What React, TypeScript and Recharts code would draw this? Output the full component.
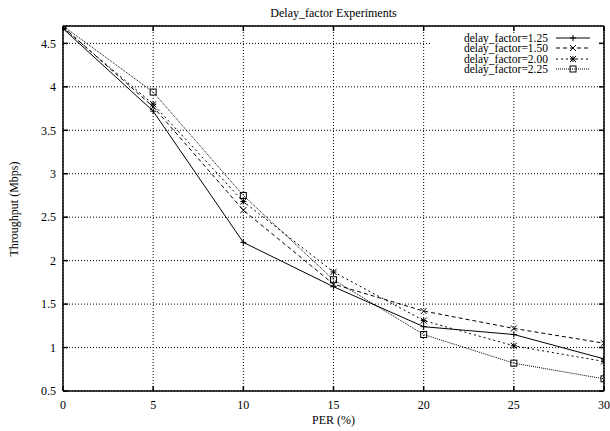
import React from "react";
import { LineChart, Line, XAxis, YAxis, CartesianGrid, Legend } from "recharts";

const per = [0, 5, 10, 15, 20, 25, 30];
const df125 = [4.67, 3.72, 2.21, 1.7, 1.24, 1.15, 0.87];
const df150 = [4.69, 3.77, 2.58, 1.73, 1.42, 1.22, 1.05];
const df200 = [4.68, 3.8, 2.68, 1.87, 1.31, 1.02, 0.84];
const df225 = [4.7, 3.94, 2.75, 1.78, 1.15, 0.82, 0.64];

const xTicks = [0, 5, 10, 15, 20, 25, 30];
const yTicks = [0.5, 1, 1.5, 2, 2.5, 3, 3.5, 4, 4.5];

const series = [
  { key: "df125", name: "delay_factor=1.25", dash: undefined, marker: "plus" },
  { key: "df150", name: "delay_factor=1.50", dash: "4 3", marker: "cross" },
  { key: "df200", name: "delay_factor=2.00", dash: "2 3", marker: "star" },
  { key: "df225", name: "delay_factor=2.25", dash: "1 1", marker: "square" },
];

const data = per.map((p, i) => ({
  per: p,
  df125: df125[i],
  df150: df150[i],
  df200: df200[i],
  df225: df225[i],
}));

const FONT = "'Liberation Serif', 'Times New Roman', serif";

function Marker({ kind, cx, cy }: { kind: string; cx: number; cy: number }) {
  const s = 3;
  const plus = `M${cx - s},${cy}H${cx + s}M${cx},${cy - s}V${cy + s}`;
  const cross = `M${cx - s},${cy - s}L${cx + s},${cy + s}M${cx - s},${cy + s}L${cx + s},${cy - s}`;
  if (kind === "square") {
    return <rect x={cx - s} y={cy - s} width={2 * s} height={2 * s} fill="none" stroke="#000" strokeWidth={1} />;
  }
  const d = kind === "plus" ? plus : kind === "cross" ? cross : plus + cross;
  return <path d={d} fill="none" stroke="#000" strokeWidth={1} />;
}

const renderLegend = () => (
  <div style={{ paddingRight: 7, fontFamily: FONT }}>
    {series.map((s) => (
      <div
        key={s.key}
        style={{ display: "flex", justifyContent: "flex-end", alignItems: "center", height: 10.5 }}
      >
        <span style={{ fontSize: 11.5, lineHeight: "10.5px", color: "#000" }}>{s.name}</span>
        <svg width={36} height={10} style={{ marginLeft: 8, display: "block" }}>
          <line x1={0} x2={34} y1={5} y2={5} stroke="#000" strokeWidth={1} strokeDasharray={s.dash} />
          <Marker kind={s.marker} cx={17} cy={5} />
        </svg>
      </div>
    ))}
  </div>
);

const YTitle = () => (
  <text
    x={14}
    y={209}
    transform="rotate(-90 14 209)"
    textAnchor="middle"
    dominantBaseline="central"
    fontSize={12}
    fill="#000"
  >
    Throughput (Mbps)
  </text>
);

const noLabel = () => <g />;

export default function App() {
  return (
    <div
      style={{
        position: "absolute",
        left: 0,
        top: 0,
        width: 610,
        height: 431,
        overflow: "hidden",
        background: "#fff",
        fontFamily: FONT,
      }}
    >
      <div
        style={{
          position: "absolute",
          left: 0,
          top: 5,
          width: 667,
          textAlign: "center",
          fontSize: 12,
          lineHeight: "16px",
          color: "#000",
        }}
      >
        Delay_factor Experiments
      </div>
      <LineChart width={610} height={431} data={data} margin={{ top: 0, right: 0, bottom: 0, left: 0 }}>
        <CartesianGrid stroke="#000" strokeDasharray="1 2" strokeWidth={1} />
        <XAxis
          dataKey="per"
          type="number"
          domain={[0, 30]}
          ticks={xTicks}
          allowDataOverflow
          height={40}
          stroke="#000"
          strokeWidth={1.5}
          tickSize={-5}
          tickMargin={14}
          tick={{ fontSize: 12, fill: "#000", strokeWidth: 0 }}
          label={{ value: "PER (%)", position: "insideBottom", offset: 7, fill: "#000", fontSize: 12 }}
        />
        <XAxis
          xAxisId="top"
          dataKey="per"
          orientation="top"
          type="number"
          domain={[0, 30]}
          ticks={xTicks}
          allowDataOverflow
          height={26}
          stroke="#000"
          strokeWidth={1.5}
          tickSize={-5}
          tick={noLabel}
        />
        <YAxis
          type="number"
          domain={[0.5, 4.7]}
          ticks={yTicks}
          allowDataOverflow
          width={63}
          stroke="#000"
          strokeWidth={1.5}
          tickSize={-5}
          tickMargin={12}
          tick={{ fontSize: 12, fill: "#000", strokeWidth: 0 }}
          label={<YTitle />}
        />
        <YAxis
          yAxisId="right"
          orientation="right"
          type="number"
          domain={[0.5, 4.7]}
          ticks={yTicks}
          allowDataOverflow
          width={6}
          stroke="#000"
          strokeWidth={1.5}
          tickSize={-5}
          tick={noLabel}
        />
        <Line
          xAxisId="top"
          yAxisId="right"
          dataKey="df125"
          stroke="none"
          dot={false}
          activeDot={false}
          legendType="none"
          isAnimationActive={false}
        />
        {series.map((s) => (
          <Line
            key={s.key}
            type="linear"
            dataKey={s.key}
            name={s.name}
            stroke="#000"
            strokeWidth={1}
            strokeDasharray={s.dash}
            dot={(p: any) => <Marker key={`${s.key}-${p.index}`} kind={s.marker} cx={p.cx} cy={p.cy} />}
            activeDot={false}
            isAnimationActive={false}
          />
        ))}
        <Legend
          layout="vertical"
          align="center"
          verticalAlign="middle"
          content={renderLegend}
          wrapperStyle={{ position: "absolute", left: 430, top: 32.5, width: 169, height: 52, background: "#fff" }}
        />
      </LineChart>
    </div>
  );
}
